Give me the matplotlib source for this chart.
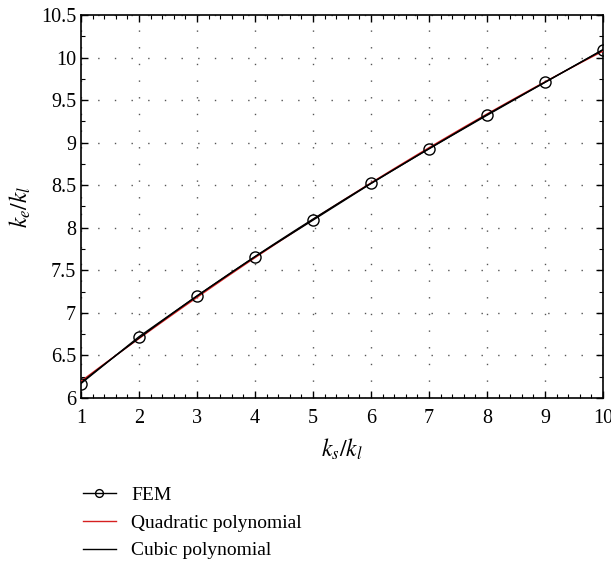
import numpy as np
import matplotlib
matplotlib.use("Agg")
import matplotlib.pyplot as plt
from matplotlib.ticker import MultipleLocator

plt.rcParams['font.family'] = ['Liberation Serif', 'DejaVu Serif']
plt.rcParams['mathtext.fontset'] = 'stix'

ratio = np.array([1, 2, 3, 4, 5, 6, 7, 8, 9, 10])
fem = np.array([6.17, 6.72, 7.20, 7.66, 8.09, 8.52, 8.93, 9.33, 9.71, 10.09])

xs = np.linspace(1, 10, 200)
quad = np.polyval(np.polyfit(ratio, fem, 2), xs)
cubic = np.polyval(np.polyfit(ratio, fem, 3), xs)

fig = plt.figure(figsize=(6.11, 5.63), dpi=100)
ax = fig.add_axes([0.1326, 0.2931, 0.8544, 0.6803])

ax.plot(ratio, fem, color='black', lw=1.0, marker='o', ms=8, mfc='none',
        mec='black', mew=1.0, label='FEM', zorder=4)
ax.plot(xs, quad, color='#d62020', lw=1.0, label='Quadratic polynomial', zorder=3)
ax.plot(xs, cubic, color='black', lw=1.0, label='Cubic polynomial', zorder=3)

ax.set_xlim(1, 10)
ax.set_ylim(6, 10.5)
ax.xaxis.set_major_locator(MultipleLocator(1))
ax.xaxis.set_minor_locator(MultipleLocator(0.2))
ax.yaxis.set_major_locator(MultipleLocator(0.5))
ax.yaxis.set_minor_locator(MultipleLocator(0.25))
ax.set_yticks(np.arange(6, 10.51, 0.5))
ax.set_yticklabels(['6', '6.5', '7', '7.5', '8', '8.5', '9', '9.5', '10', '10.5'])
ax.tick_params(which='both', direction='in', top=True, right=True, labelsize=14.5)
ax.tick_params(which='major', length=5, width=1)
ax.tick_params(which='minor', length=3, width=0.8)
ax.tick_params(axis='x', pad=8)
for s in ax.spines.values():
    s.set_linewidth(1.2)

ax.grid(True, which='major', color='#555555', linestyle=(0, (1, 11)), lw=1.0)

ax.set_xlabel(r'$k_s/k_l$', fontsize=17, labelpad=6)
ax.set_ylabel(r'$k_e/k_l$', fontsize=17, labelpad=6)

handles, labels = ax.get_legend_handles_labels()
fig.legend(handles, labels, loc='upper left', bbox_to_anchor=(0.123, 0.150),
           frameon=False, fontsize=14, handlelength=1.7, handletextpad=0.77,
           labelspacing=0.52, borderaxespad=0, markerscale=0.7)

fig.savefig('out.png', dpi=100)
